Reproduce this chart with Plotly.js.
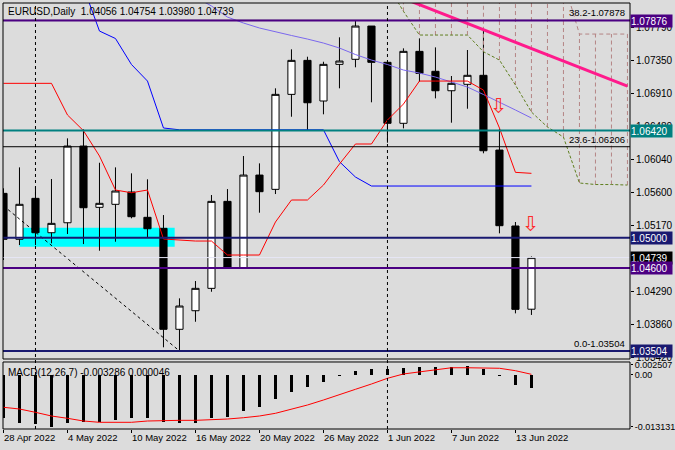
<!DOCTYPE html>
<html><head><meta charset="utf-8">
<script src="https://cdn.plot.ly/plotly-3.0.1.min.js"></script>
<style>html,body{margin:0;padding:0;background:#dcdcdc}#chart{width:675px;height:450px}</style>
</head><body><div id="chart"></div>
<script>
// ---------- data ----------
const dates = ['2022-04-28','2022-04-29','2022-05-02','2022-05-03','2022-05-04','2022-05-05','2022-05-06','2022-05-09','2022-05-10','2022-05-11','2022-05-12','2022-05-13','2022-05-16','2022-05-17','2022-05-18','2022-05-19','2022-05-20','2022-05-23','2022-05-24','2022-05-25','2022-05-26','2022-05-27','2022-05-30','2022-05-31','2022-06-01','2022-06-02','2022-06-03','2022-06-06','2022-06-07','2022-06-08','2022-06-09','2022-06-10','2022-06-13','2022-06-14'];
const futureDates = ['2022-06-15','2022-06-16','2022-06-17','2022-06-20','2022-06-21','2022-06-22'];
const openP  = [1.05589,1.04981,1.05523,1.05068,1.05200,1.06215,1.05404,1.05444,1.05607,1.05272,1.05126,1.03790,1.04036,1.04332,1.05483,1.04605,1.05831,1.05642,1.06899,1.07349,1.06811,1.07296,1.07363,1.07803,1.07323,1.06516,1.07468,1.07204,1.06947,1.07032,1.07151,1.06162,1.05157,1.04056];
const highP  = [1.05656,1.05933,1.05677,1.05779,1.06317,1.06436,1.05994,1.05933,1.05854,1.05775,1.05302,1.04200,1.04429,1.05567,1.05646,1.06083,1.05986,1.06979,1.07495,1.07397,1.07331,1.07654,1.07883,1.07803,1.07323,1.07508,1.07640,1.07521,1.07142,1.07486,1.07741,1.06440,1.05210,1.04754];
const lowP   = [1.04707,1.04905,1.04905,1.04928,1.05051,1.04918,1.04830,1.04949,1.05259,1.05007,1.03552,1.03504,1.03890,1.04287,1.04600,1.04600,1.05333,1.05580,1.06603,1.06418,1.06635,1.06979,1.07257,1.06794,1.06259,1.06449,1.07066,1.06846,1.06524,1.06709,1.06119,1.05060,1.04001,1.03980];
const closeP = [1.04981,1.05444,1.05068,1.05192,1.06215,1.05399,1.05457,1.05620,1.05280,1.05121,1.03790,1.04098,1.04332,1.05483,1.04605,1.05831,1.05611,1.06899,1.07349,1.06788,1.07296,1.07340,1.07803,1.07323,1.06516,1.07468,1.07177,1.06947,1.07045,1.07151,1.06153,1.05161,1.04054,1.04739];

const tenkan = [1.07045,1.07045,1.07045,1.07045,1.06626,1.06418,1.06083,1.05633,1.05597,1.05633,1.04985,1.04971,1.04958,1.04958,1.04773,1.04773,1.04773,1.05210,1.05501,1.05501,1.05699,1.05977,1.06242,1.06242,1.06559,1.06771,1.07075,1.07075,1.07075,1.07075,1.06956,1.06454,1.05867,1.05854];
const kijun = [null,null,null,null,null,1.08319,1.07737,1.07638,1.07294,1.07075,1.06454,1.06430,1.06430,1.06430,1.06430,1.06430,1.06430,1.06430,1.06430,1.06430,1.06430,1.06008,1.05805,1.05686,1.05686,1.05686,1.05686,1.05686,1.05686,1.05686,1.05686,1.05686,1.05686,1.05686];
const slateStart = 12;
const slateLine = [1.08187,1.08068,1.07922,1.07843,1.07777,1.07724,1.07678,1.07631,1.07578,1.07512,1.07426,1.07353,1.07294,1.07221,1.07181,1.07128,1.07062,1.06996,1.06897,1.06798,1.06692,1.06586];

const senkouStart = 24;
const senkouA = [1.08346,1.07998,1.07684,1.07684,1.07684,1.07684,1.07463,1.07353,1.07022,1.06665,1.06467,1.06334,1.05726,1.05706,1.05706,1.05699];
const senkouB = [1.08410,1.08410,1.08410,1.08410,1.08410,1.08410,1.08410,1.08410,1.08410,1.08410,1.08410,1.08410,1.07697,1.07697,1.07697,1.07697];

const macdMain = [-0.01106,-0.01217,-0.01250,-0.01313,-0.01217,-0.01192,-0.01192,-0.01149,-0.01106,-0.01106,-0.01192,-0.01217,-0.01217,-0.01091,-0.01066,-0.00914,-0.00813,-0.00626,-0.00434,-0.00308,-0.00182,-0.00050,0.00080,0.00130,0.00130,0.00170,0.00200,0.00200,0.00200,0.00215,0.00130,-0.00040,-0.00265,-0.003286];
const macdSignal = [-0.00828,-0.00871,-0.00955,-0.01048,-0.01106,-0.01174,-0.01207,-0.01207,-0.01207,-0.01174,-0.01157,-0.01157,-0.01157,-0.01149,-0.01124,-0.01091,-0.01048,-0.00980,-0.00879,-0.00770,-0.00644,-0.00500,-0.00374,-0.00240,-0.00096,0.00013,0.00070,0.00130,0.00170,0.00170,0.00170,0.00157,0.00096,0.000046];

const priceTicks = [1.07790,1.07350,1.06910,1.06480,1.06040,1.05600,1.05170,1.04290,1.03860,1.03420];
const macdTicks = [0.002507,0,-0.013131];
const macdTickText = ['0.002507','0.00','-0.013131'];
const levelPrices = [1.07876,1.06420,1.05000,1.04739,1.04600,1.03504];
const fibPct = ['38.2','23.6','0.0'];
const fibPrice = [1.07878,1.06206,1.03504];
const xLabelDates = ['2022-04-28','2022-05-04','2022-05-10','2022-05-16','2022-05-20','2022-05-26','2022-06-01','2022-06-07','2022-06-13'];
const xLabelText = ['28 Apr 2022','4 May 2022','10 May 2022','16 May 2022','20 May 2022','26 May 2022','1 Jun 2022','7 Jun 2022','13 Jun 2022'];
const separatorDates = ['2022-05-02','2022-06-01'];
const trendDownX = ['2022-04-28','2022-05-13'];
const trendDownY = [1.05424,1.03504];
const trendPinkX = ['2022-06-02','2022-06-22'];
const trendPinkY = [1.08169,1.07007];
const zoneDates = ['2022-04-29','2022-05-12'];
const zonePrices = [1.04883,1.05134];
const arrowDates = ['2022-06-10','2022-06-14'];
const arrowPrices = [1.06751,1.05177];
const headerText = 'EURUSD,Daily  1.04056 1.04754 1.03980 1.04739';
const macdText = 'MACD(12,26,7) -0.003286 0.000046';

// ---------- build ----------
const allDates = dates.concat(futureDates);
const idx = d => allDates.indexOf(d);
const FONT = 'Liberation Sans, Arial, sans-serif';
const FS = 9.5;
const senkouDates = allDates.slice(senkouStart, senkouStart + senkouA.length);

const hatchX = [], hatchY = [];
for (let k = 1; k < senkouA.length; k++) {
  hatchX.push(senkouDates[k], senkouDates[k], null);
  hatchY.push(senkouA[k], senkouB[k], null);
}

const traces = [
  {type:'scatter', mode:'lines', x:hatchX, y:hatchY, line:{color:'#b48484', width:1, dash:'4px,3px'}, hoverinfo:'skip', showlegend:false},
  {type:'scatter', mode:'lines', x:senkouDates, y:senkouB, line:{color:'#b48484', width:1, dash:'4px,3px'}, hoverinfo:'skip', showlegend:false},
  {type:'scatter', mode:'lines', x:senkouDates, y:senkouA, line:{color:'#5f7f1f', width:1, dash:'3px,2px'}, hoverinfo:'skip', showlegend:false},
  {type:'candlestick', x:dates, open:openP, high:highP, low:lowP, close:closeP,
   increasing:{line:{color:'#000000', width:1}, fillcolor:'#ffffff'},
   decreasing:{line:{color:'#000000', width:1}, fillcolor:'#000000'},
   whiskerwidth:0, hoverinfo:'skip', showlegend:false, xaxis:'x', yaxis:'y'},
  {type:'scatter', mode:'lines', x:dates.slice(slateStart), y:slateLine, line:{color:'#7b68ee', width:1}, hoverinfo:'skip', showlegend:false},
  {type:'scatter', mode:'lines', x:dates, y:kijun, line:{color:'#0000ff', width:1}, hoverinfo:'skip', showlegend:false},
  {type:'scatter', mode:'lines', x:dates, y:tenkan, line:{color:'#ff0000', width:1}, hoverinfo:'skip', showlegend:false},
  {type:'scatter', mode:'lines', x:trendDownX, y:trendDownY, line:{color:'#000000', width:1, dash:'3px,3px'}, hoverinfo:'skip', showlegend:false},
  {type:'scatter', mode:'lines', x:trendPinkX, y:trendPinkY, line:{color:'#ff1a8c', width:3}, hoverinfo:'skip', showlegend:false},
  {type:'bar', x:dates, y:macdMain, width:0.19, marker:{color:'#000000', line:{width:0}}, xaxis:'x', yaxis:'y2', hoverinfo:'skip', showlegend:false},
  {type:'scatter', mode:'lines', x:dates, y:macdSignal, line:{color:'#ff0000', width:1}, xaxis:'x', yaxis:'y2', hoverinfo:'skip', showlegend:false}
];

const levelStyle = [
  {line:'#4b0082', w:2, box:'#4b0082'},
  {line:'#008080', w:2, box:'#008080'},
  {line:'#191970', w:2, box:'#191970'},
  {line:'#e6e6f6', w:1, box:'#000000'},
  {line:'#4b0082', w:2, box:'#4b0082'},
  {line:'#191970', w:2, box:'#191970'}
];

const mainDom = [0.1643, 1];
const macdDom = [0, 0.1573];

const shapes = [];
shapes.push({type:'rect', xref:'x', yref:'y', x0:idx(zoneDates[0]), x1:idx(zoneDates[1]) + 0.7,
  y0:zonePrices[0], y1:zonePrices[1], fillcolor:'#00ffff', line:{width:0}, layer:'below'});
fibPrice.forEach(p => shapes.push({type:'line', xref:'paper', yref:'y', x0:0, x1:1, y0:p, y1:p, line:{color:'#000000', width:1}}));
levelPrices.forEach((p, i) => shapes.push({type:'line', xref:'paper', yref:'y', x0:0, x1:1, y0:p, y1:p, line:{color:levelStyle[i].line, width:levelStyle[i].w}}));
separatorDates.forEach(d => shapes.push({type:'line', xref:'x', yref:'paper', x0:idx(d), x1:idx(d), y0:0, y1:1, line:{color:'#000000', width:1, dash:'3px,3px'}}));
[mainDom, macdDom].forEach(dm => shapes.push({type:'rect', xref:'paper', yref:'paper', x0:0, x1:1, y0:dm[0], y1:dm[1], line:{color:'#000000', width:1}, fillcolor:'rgba(0,0,0,0)'}));

const annotations = [];
annotations.push({xref:'paper', yref:'paper', x:0, y:1, xanchor:'left', yanchor:'top', xshift:3, yshift:-1, text:headerText, showarrow:false, font:{family:FONT, size:10, color:'#000000'}});
annotations.push({xref:'paper', yref:'paper', x:0, y:macdDom[1], xanchor:'left', yanchor:'top', xshift:3, yshift:-3, text:macdText, showarrow:false, font:{family:FONT, size:10, color:'#000000'}});
fibPct.forEach((pct, i) => annotations.push({xref:'paper', yref:'y', x:1, y:fibPrice[i], xanchor:'right', yanchor:'bottom', xshift:-3, yshift:0, text:pct + '-' + fibPrice[i].toFixed(5), showarrow:false, font:{family:FONT, size:FS, color:'#000000'}}));
levelPrices.forEach((p, i) => annotations.push({xref:'paper', yref:'y', x:1, y:p, xanchor:'left', yanchor:'middle', xshift:0, text:p.toFixed(5), showarrow:false, bgcolor:levelStyle[i].box, borderpad:0, width:41, height:12, align:'left', font:{family:FONT, size:10, color:'#ffffff'}}));
arrowDates.forEach((d, i) => annotations.push({xref:'x', yref:'y', x:d, y:arrowPrices[i], text:'⇩', showarrow:false, font:{family:'DejaVu Sans', size:21, color:'#ff2a2a'}}));

const layout = {
  width:675, height:450,
  margin:{l:3, r:45, t:3, b:21},
  paper_bgcolor:'#dcdcdc', plot_bgcolor:'#dcdcdc',
  showlegend:false, hovermode:false, boxgap:0.36, bargap:0,
  font:{family:FONT, size:FS, color:'#000000'},
  xaxis:{type:'category', categoryorder:'array', categoryarray:allDates, range:[-0.03, 39.16],
    anchor:'y2', rangeslider:{visible:false}, showgrid:false, zeroline:false, showline:false,
    tickmode:'array', tickvals:xLabelDates, ticktext:xLabelText, ticks:'outside', ticklen:3, tickcolor:'#000000',
    ticklabelposition:'outside right', tickfont:{family:FONT, size:FS, color:'#000000'}, fixedrange:true},
  yaxis:{domain:mainDom, range:[1.03397, 1.08108], side:'right', anchor:'x', showgrid:false, zeroline:false,
    tickmode:'array', tickvals:priceTicks, ticktext:priceTicks.map(v => v.toFixed(5)), ticks:'outside', ticklen:3, tickcolor:'#000000',
    tickfont:{family:FONT, size:10, color:'#000000'}, fixedrange:true},
  yaxis2:{domain:macdDom, range:[-0.01376, 0.003157], side:'right', anchor:'x', showgrid:false, zeroline:false,
    tickmode:'array', tickvals:macdTicks, ticktext:macdTickText, ticks:'outside', ticklen:2, tickcolor:'#000000',
    tickfont:{family:FONT, size:9, color:'#000000'}, fixedrange:true},
  shapes:shapes, annotations:annotations
};

Plotly.newPlot('chart', traces, layout, {staticPlot:true, displayModeBar:false});
</script></body></html>
